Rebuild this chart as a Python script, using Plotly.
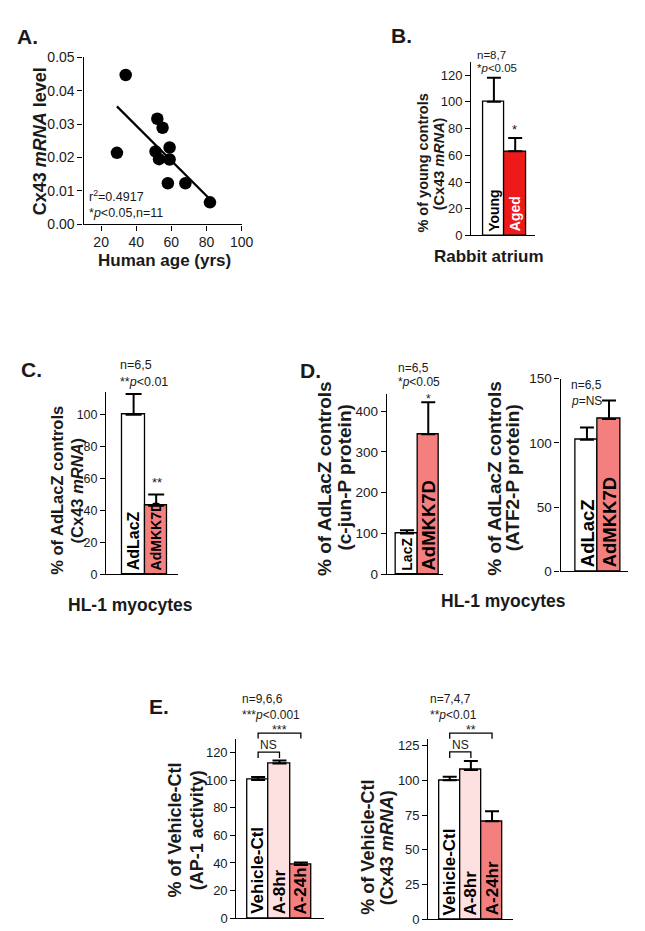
import plotly.graph_objects as go

W, H = 645, 931
FONT = "Liberation Sans, Arial, Helvetica, sans-serif"

# ---------------- data ----------------
# Panel A: Cx43 mRNA vs human age
a_age = [34, 29, 52, 55, 51, 53, 59, 59, 58, 68, 82]
a_cx43 = [0.0447, 0.0214, 0.0316, 0.0289, 0.0218, 0.0195, 0.0230, 0.0194, 0.0123, 0.0123, 0.0066]
a_fit_age = [29, 82]
a_fit_cx43 = [0.0353, 0.0075]

# Panel B: rabbit atrium
b_groups = ["Young", "Aged"]
b_values = [100, 63]
b_err = [18, 10]

# Panel C: HL-1 Cx43 mRNA
c_groups = ["AdLacZ", "AdMKK7D"]
c_values = [100, 43]
c_err = [13, 7]

# Panel D: c-jun-P and ATF2-P protein
d1_groups = ["LacZ", "AdMKK7D"]
d1_values = [100, 343]
d1_err = [8, 79]
d2_groups = ["AdLacZ", "AdMKK7D"]
d2_values = [102.5, 118.5]
d2_err = [9.5, 14.5]

# Panel E: AP-1 activity and Cx43 mRNA
e1_groups = ["Vehicle-Ctl", "A-8hr", "A-24h"]
e1_values = [100, 112, 38.6]
e1_err = [2.2, 2.2, 1.8]
e2_groups = ["Vehicle-Ctl", "A-8hr", "A-24hr"]
e2_values = [100, 107.5, 70.5]
e2_err = [2.6, 6.5, 7.2]

WHITE = "#ffffff"
RED = "#ee1a1a"
PINK = "#f47f7f"
LPINK = "#fde0e0"

# ---------------- layout geometry (pixels) ----------------
panels = {
    "A": dict(ax="", x0=77, x1=238, yt=42, yb=212, xr=[10, 100], yr=[0, 0.05]),
    "B": dict(ax="2", x0=472, x1=537, yt=46.5, yb=223.3, xr=[-1.065, 1.93], yr=[0, 130]),
    "C": dict(ax="3", x0=100, x1=173, yt=383, yb=568, xr=[-1.217, 1.957], yr=[0, 114]),
    "D1": dict(ax="4", x0=386, x1=443, yt=385, yb=568, xr=[-0.945, 1.68], yr=[0, 441]),
    "D2": dict(ax="5", x0=563, x1=632, yt=369, yb=565, xr=[-1.196, 1.87], yr=[0, 150]),
    "E1": dict(ax="6", x0=232.7, x1=321.7, yt=735.2, yb=918, xr=[-1.018, 3.07], yr=[0, 130]),
    "E2": dict(ax="7", x0=428.3, x1=515, yt=735.3, yb=919, xr=[-1.01, 3.01], yr=[0, 130]),
}


def px(x):
    return x / W


def py(y):
    return 1 - y / H


def to_pix(p, xv, yv):
    g = panels[p]
    xpix = g["x0"] + (xv - g["xr"][0]) / (g["xr"][1] - g["xr"][0]) * (g["x1"] - g["x0"])
    ypix = g["yb"] - (yv - g["yr"][0]) / (g["yr"][1] - g["yr"][0]) * (g["yb"] - g["yt"])
    return xpix, ypix


fig = go.Figure()

# Panel A traces
fig.add_trace(go.Scatter(x=a_age, y=a_cx43, mode="markers",
                         marker=dict(color="black", size=12.5), xaxis="x", yaxis="y",
                         cliponaxis=False))
fig.add_trace(go.Scatter(x=a_fit_age, y=a_fit_cx43, mode="lines",
                         line=dict(color="black", width=2.2), xaxis="x", yaxis="y"))


def add_bars(p, groups, values, err, colors, cap=7):
    a = panels[p]["ax"]
    fig.add_trace(go.Bar(
        x=groups, y=values, width=1,
        marker=dict(color=colors, line=dict(color="black", width=1.3)),
        error_y=dict(type="data", array=err, arrayminus=[0] * len(err), symmetric=False,
                     color="black", thickness=2, width=cap),
        xaxis="x" + a, yaxis="y" + a))


add_bars("B", b_groups, b_values, b_err, [WHITE, RED])
add_bars("C", c_groups, c_values, c_err, [WHITE, PINK], cap=8)
add_bars("D1", d1_groups, d1_values, d1_err, [WHITE, PINK])
add_bars("D2", d2_groups, d2_values, d2_err, [WHITE, PINK])
add_bars("E1", e1_groups, e1_values, e1_err, [WHITE, LPINK, PINK])
add_bars("E2", e2_groups, e2_values, e2_err, [WHITE, LPINK, PINK])

# ---------------- axes ----------------
layout = dict(width=W, height=H, margin=dict(l=0, r=0, t=0, b=0),
              paper_bgcolor="white", plot_bgcolor="white", showlegend=False,
              font=dict(family=FONT, color="#1a1a1a"), bargap=0)

ytick_cfg = {
    "A": dict(tickvals=[0, 0.01, 0.02, 0.03, 0.04, 0.05], tickformat=".2f", size=14),
    "B": dict(tickvals=[0, 20, 40, 60, 80, 100, 120], size=13),
    "C": dict(tickvals=[0, 20, 40, 60, 80, 100], size=12.5),
    "D1": dict(tickvals=[0, 100, 200, 300, 400], size=13.5),
    "D2": dict(tickvals=[0, 50, 100, 150], size=13.5),
    "E1": dict(tickvals=[0, 20, 40, 60, 80, 100, 120], size=13),
    "E2": dict(tickvals=[0, 25, 50, 75, 100, 125], size=13),
}

for p, g in panels.items():
    a = g["ax"]
    xd = [px(g["x0"]), px(g["x1"])]
    yd = [py(g["yb"]), py(g["yt"])]
    xa = dict(domain=xd, range=g["xr"], anchor="y" + a, showline=True, linecolor="black",
              linewidth=1.3, showgrid=False, zeroline=False, fixedrange=True)
    if p == "A":
        xa.update(tickvals=[20, 40, 60, 80, 100], ticks="outside", ticklen=5, tickwidth=1.3,
                  tickcolor="black", tickfont=dict(size=14, family=FONT, color="#1a1a1a"))
    else:
        xa.update(type="category", showticklabels=False, ticks="")
    tc = ytick_cfg[p]
    ya = dict(domain=yd, range=g["yr"], anchor="x" + a, showline=True, linecolor="black",
              linewidth=1.3, showgrid=False, zeroline=False, ticks="outside", ticklen=5,
              tickwidth=1.3, tickcolor="black", tickvals=tc["tickvals"], fixedrange=True,
              tickfont=dict(size=tc["size"], family=FONT, color="#1a1a1a"))
    if "tickformat" in tc:
        ya["tickformat"] = tc["tickformat"]
    layout["xaxis" + a] = xa
    layout["yaxis" + a] = ya

fig.update_layout(**layout)

# ---------------- annotations ----------------
anns = []


def txt(text, x, y, size, angle=0, xanchor="center", yanchor="middle", color="#1a1a1a"):
    anns.append(dict(text=text, x=px(x), y=py(y), xref="paper", yref="paper",
                     showarrow=False, textangle=angle, xanchor=xanchor, yanchor=yanchor,
                     font=dict(family=FONT, size=size, color=color)))


def barlabel(p, cat, text, size, color="black"):
    a = panels[p]["ax"]
    anns.append(dict(text="<b>" + text + "</b>", x=cat, y=0, xref="x" + a, yref="y" + a,
                     showarrow=False, textangle=-90, xanchor="center", yanchor="bottom",
                     yshift=2, font=dict(family=FONT, size=size, color=color)))


# panel letters
txt("<b>A.</b>", 20, 21, 21)
txt("<b>B.</b>", 401, 20, 21)
txt("<b>C.</b>", 24, 360, 21)
txt("<b>D.</b>", 308, 361, 21)
txt("<b>E.</b>", 154, 703, 21)

# Panel A
txt("<b>Cx43 <i>mRNA</i> level</b>", 32, 127, 18, angle=-90)
txt("<b>Human age (yrs)</b>", 159, 249, 17)
txt("r<sup>2</sup>=0.4917", 81, 183, 12.5, xanchor="left")
txt("*<i>p</i>&lt;0.05,n=11", 81, 200, 12.5, xanchor="left")

# Panel B
txt("n=8,7", 476, 40, 11.5, xanchor="left")
txt("*<i>p</i>&lt;0.05", 476, 53, 11.5, xanchor="left")
txt("<b>% of young controls</b>", 423, 150, 14.5, angle=-90)
txt("<b>(Cx43 <i>mRNA</i>)</b>", 440, 150, 14.5, angle=-90)
txt("<b>Rabbit atrium</b>", 490, 245, 17)
txt("*", 516.5, 115, 13)
barlabel("B", "Young", "Young", 14)
barlabel("B", "Aged", "Aged", 14, color="white")

# Panel C
txt("n=6,5", 112, 355, 12.5, xanchor="left")
txt("**<i>p</i>&lt;0.01", 112, 372, 12.5, xanchor="left")
txt("<b>% of AdLacZ controls</b>", 50, 483, 16.5, angle=-90)
txt("<b>(Cx43 <i>mRNA</i>)</b>", 70, 483, 16.5, angle=-90)
txt("**", 151.5, 475, 13)
txt("<b>HL-1 myocytes</b>", 125, 599, 17.5)
barlabel("C", "AdLacZ", "AdLacZ", 16)
barlabel("C", "AdMKK7D", "AdMKK7D", 14)

# Panel D
txt("n=6,5", 395, 358, 12, xanchor="left")
txt("*<i>p</i>&lt;0.05", 395, 372, 12, xanchor="left")
txt("<b>% of AdLacZ controls</b>", 323, 470, 19, angle=-90)
txt("<b>(c-jun-P protein)</b>", 343, 470, 19, angle=-90)
txt("*", 428, 390, 12)
barlabel("D1", "LacZ", "LacZ", 14)
barlabel("D1", "AdMKK7D", "AdMKK7D", 18.5)

txt("n=6,5", 572, 375, 12, xanchor="left")
txt("<i>p</i>=NS", 572, 392, 12, xanchor="left")
txt("<b>% of AdLacZ controls</b>", 496, 470, 19, angle=-90)
txt("<b>(ATF2-P protein)</b>", 514, 470, 19, angle=-90)
barlabel("D2", "AdLacZ", "AdLacZ", 18.5)
barlabel("D2", "AdMKK7D", "AdMKK7D", 18.5)
txt("<b>HL-1 myocytes</b>", 505, 595, 17.5)

# Panel E
txt("n=9,6,6", 236, 695, 12, xanchor="left")
txt("***<i>p</i>&lt;0.001", 236, 711, 12, xanchor="left")
txt("<b>% of Vehicle-Ctl</b>", 170, 828, 18, angle=-90)
txt("<b>(AP-1 activity)</b>", 192, 828, 18, angle=-90)
for cat in e1_groups:
    barlabel("E1", cat, cat, 17)

txt("n=7,4,7", 428, 695, 12, xanchor="left")
txt("**<i>p</i>&lt;0.01", 428, 711, 12, xanchor="left")
txt("<b>% of Vehicle-Ctl</b>", 367, 846, 18, angle=-90)
txt("<b>(Cx43 <i>mRNA</i>)</b>", 387, 846, 18, angle=-90)
for cat in e2_groups:
    barlabel("E2", cat, cat, 17)

# significance brackets: (panel, i0, i1, top value, leg value, label)
brackets = [("E1", 0, 1, 120.2, 116, "NS"), ("E1", 0, 2, 134, 130, "***"),
            ("E2", 0, 1, 120.5, 116, "NS"), ("E2", 0, 2, 134, 130, "**")]
shapes = []
for p, i0, i1, top, leg, lab in brackets:
    xa_, ytop = to_pix(p, i0, top)
    xb_, yleg = to_pix(p, i1, leg)
    path = "M {} {} L {} {} L {} {} L {} {}".format(
        px(xa_), py(yleg), px(xa_), py(ytop), px(xb_), py(ytop), px(xb_), py(yleg))
    shapes.append(dict(type="path", path=path, xref="paper", yref="paper",
                       line=dict(color="black", width=1.3)))
    if lab == "NS":
        txt(lab, (xa_ + xb_) / 2, ytop - 7, 12)
    else:
        txt(lab, (xa_ + xb_) / 2, ytop - 3, 12.5)

fig.update_layout(annotations=anns, shapes=shapes)

fig.write_html("out.html", include_plotlyjs=True, config={"displayModeBar": False})
